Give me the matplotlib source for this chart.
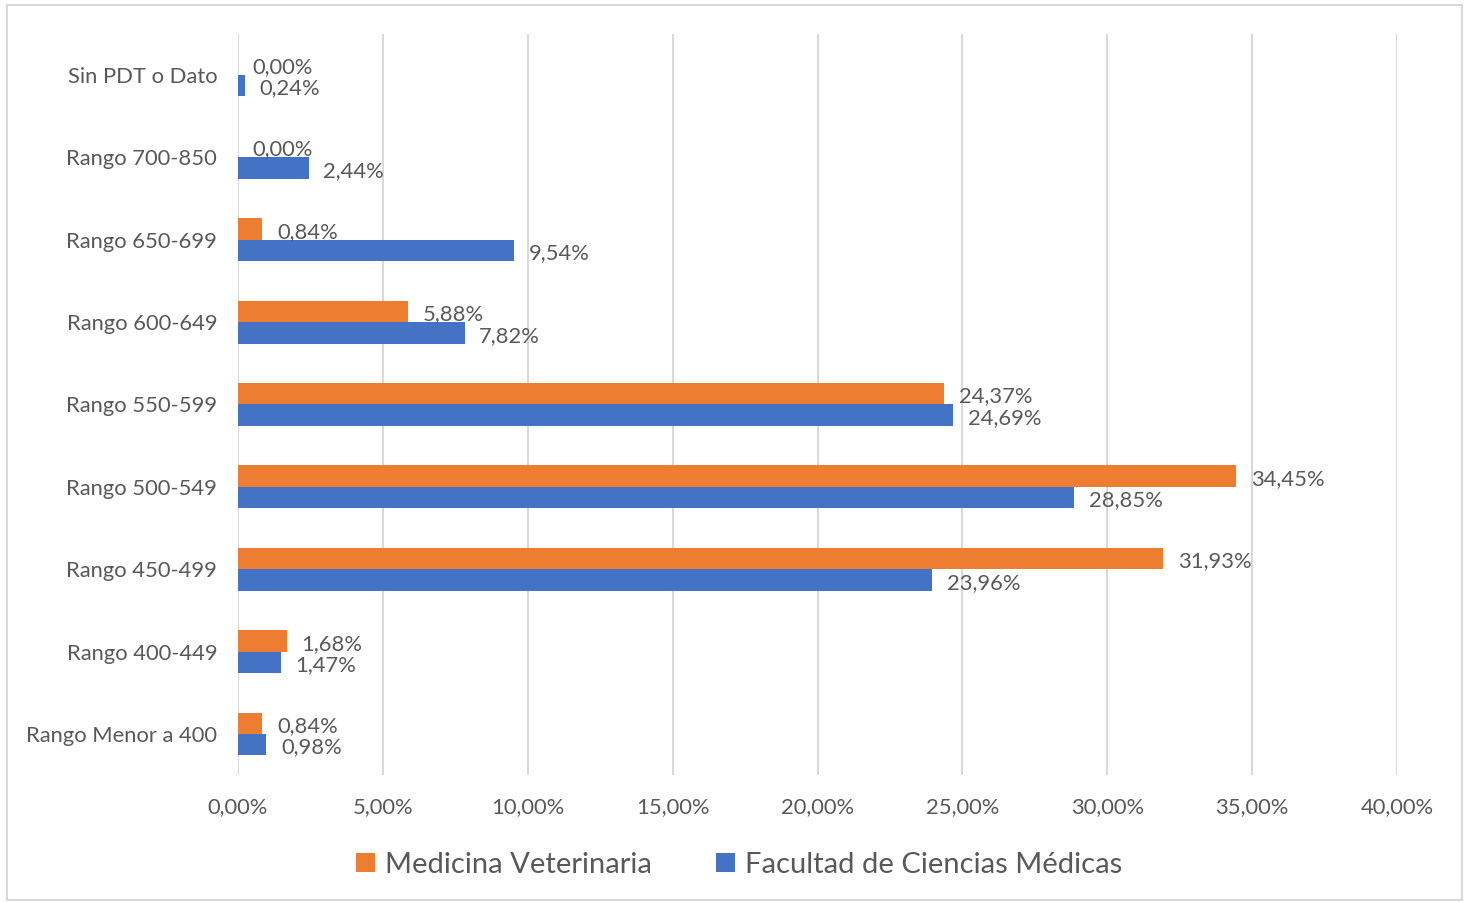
import matplotlib
matplotlib.use("Agg")
import matplotlib.pyplot as plt
from matplotlib.patches import Rectangle

categories = ["Sin PDT o Dato", "Rango 700-850", "Rango 650-699", "Rango 600-649",
              "Rango 550-599", "Rango 500-549", "Rango 450-499", "Rango 400-449",
              "Rango Menor a 400"]
veterinaria = [0.00, 0.00, 0.84, 5.88, 24.37, 34.45, 31.93, 1.68, 0.84]
ciencias_medicas = [0.24, 2.44, 9.54, 7.82, 24.69, 28.85, 23.96, 1.47, 0.98]
xticks = [0, 5, 10, 15, 20, 25, 30, 35, 40]
series_names = ["Medicina Veterinaria", "Facultad de Ciencias Médicas"]

ORANGE = "#ED7D31"
BLUE = "#4472C4"
TXT = "#595959"
GRID = "#D9D9D9"

plt.rcParams['font.family'] = ['Lato', 'DejaVu Sans']

fig = plt.figure(figsize=(14.68, 9.02), dpi=100)
ax = fig.add_axes([238/1468, 1-775.2/902, (1397-238)/1468, (775.2-33.8)/902])

h = 0.26
ys = list(range(len(categories)))
ax.barh([y - h/2 for y in ys], veterinaria, height=h, color=ORANGE, label=series_names[0], zorder=3)
ax.barh([y + h/2 for y in ys], ciencias_medicas, height=h, color=BLUE, label=series_names[1], zorder=3)

def fmt(v):
    return f"{v:.2f}%".replace(".", ",")

FS = 15.8
for y, v in zip(ys, veterinaria):
    ax.annotate(fmt(v), (v, y - h/2), xytext=(10.5, -2), textcoords="offset points",
                va="center", ha="left", fontsize=FS, color=TXT, zorder=4)
for y, v in zip(ys, ciencias_medicas):
    ax.annotate(fmt(v), (v, y + h/2), xytext=(10.5, -2), textcoords="offset points",
                va="center", ha="left", fontsize=FS, color=TXT, zorder=4)

ax.set_xlim(0, 40)
ax.set_ylim(len(categories) - 0.5, -0.5)
ax.set_xticks(xticks)
ax.set_xticklabels([f"{t:.2f}%".replace(".", ",") for t in xticks])
ax.set_yticks(ys)
ax.set_yticklabels(categories)
ax.tick_params(axis='both', length=0, labelsize=FS, labelcolor=TXT)
ax.tick_params(axis='x', pad=16)
ax.tick_params(axis='y', pad=15)
ax.grid(axis='x', color=GRID, linewidth=1.5, zorder=0)
for s in ax.spines.values():
    s.set_visible(False)

leg = fig.legend(loc='center', bbox_to_anchor=(739/1468, 1-865/902), ncol=2, frameon=False,
                 fontsize=21, handlelength=0.65, handleheight=0.65, columnspacing=2.2,
                 handletextpad=0.35)
for t in leg.get_texts():
    t.set_color(TXT)

fig.patches.append(Rectangle((7/1468, 1-900/902), (1462-7)/1468, (900-5)/902,
                             transform=fig.transFigure, fill=False, edgecolor=GRID, linewidth=1.5))

fig.savefig("out.png", dpi=100)
